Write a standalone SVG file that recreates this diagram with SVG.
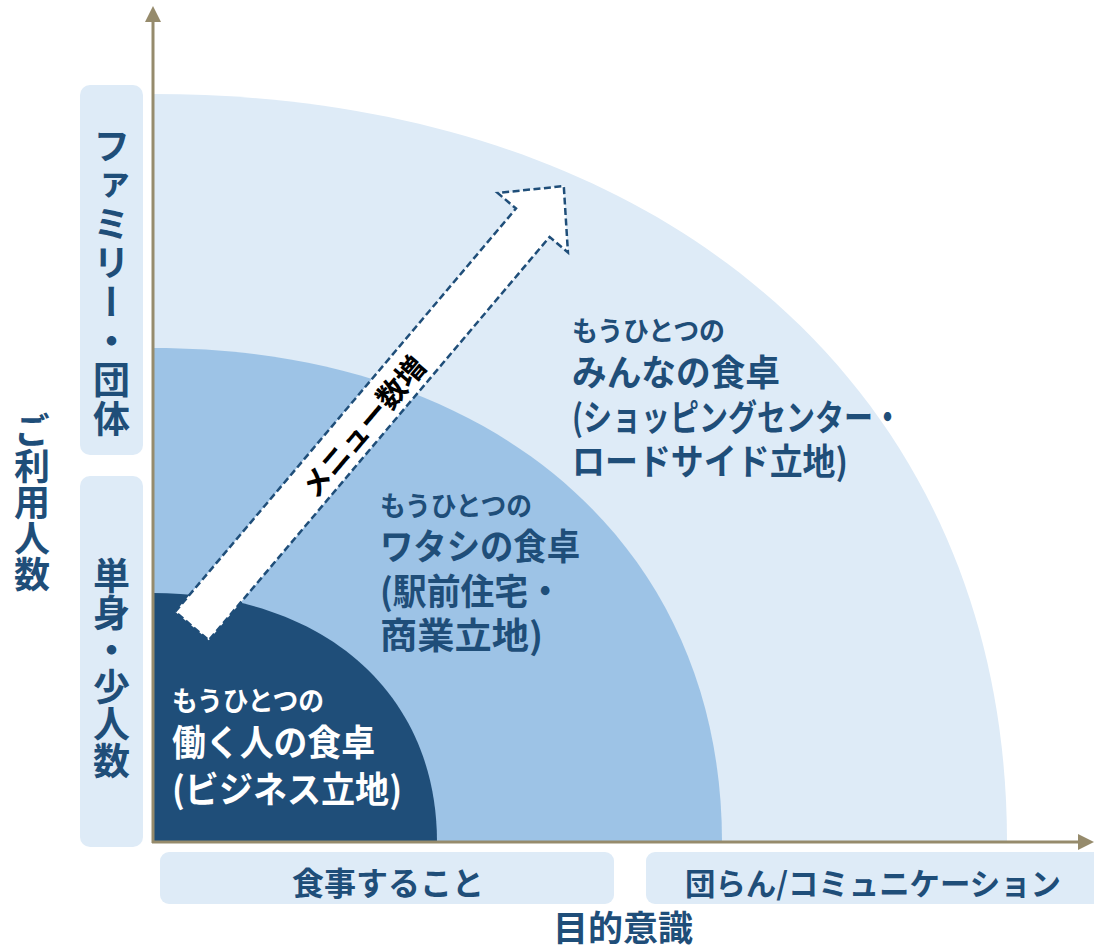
<svg xmlns="http://www.w3.org/2000/svg" width="1094" height="949" viewBox="0 0 1094 949">
<style>
text{font-family:"Noto Sans CJK JP","Noto Sans",sans-serif;font-weight:700}
.b{fill:#1f4e79}
.w{fill:#ffffff}
.k{fill:#000000}
.box{fill:#deebf7}
.v{writing-mode:vertical-rl;text-anchor:middle}
.c{text-anchor:middle}
.ax{stroke:#968b6c;stroke-width:3;fill:none}
.axh{fill:#968b6c}
.s{font-size:27px}
.l{font-size:36px}
</style>
<rect width="1094" height="949" fill="#ffffff"/>

<g id="region-everyone">
<path d="M153,842 V94 C665.4,94 1007,393.2 1007,842 Z" fill="#deebf7"/>
</g>
<g id="region-watashi">
<path d="M153,842 V348 C494.4,348 722,545.6 722,842 Z" fill="#9dc3e6"/>
</g>
<g id="region-worker">
<path d="M153,842 V593 C323.4,593 437,692.6 437,842 Z" fill="#1f4e79"/>
</g>

<g id="arrow-menu" transform="translate(192,626) rotate(-49.8)">
<polygon points="0,-22 528,-22 528,-46 576,0 528,46 528,22 0,22" fill="#ffffff" stroke="#1f4e79" stroke-width="2.5" stroke-dasharray="7 3.5" stroke-linejoin="miter"/>
<text class="k c" x="263" y="0" font-size="29" dominant-baseline="central">メニュー数増</text>
</g>

<g id="label-everyone">
<text class="b"><tspan class="s" x="572" y="341" textLength="153" lengthAdjust="spacingAndGlyphs">もうひとつの</tspan><tspan class="l" x="572" y="386" textLength="208" lengthAdjust="spacingAndGlyphs">みんなの食卓</tspan><tspan class="l" x="572" y="431" textLength="330" lengthAdjust="spacingAndGlyphs">(ショッピングセンター・</tspan><tspan class="l" x="572" y="475" textLength="276" lengthAdjust="spacingAndGlyphs">ロードサイド立地)</tspan></text>
</g>

<g id="label-watashi">
<text class="b"><tspan class="s" x="380" y="516" textLength="152" lengthAdjust="spacingAndGlyphs">もうひとつの</tspan><tspan class="l" x="380" y="560" textLength="200" lengthAdjust="spacingAndGlyphs">ワタシの食卓</tspan><tspan class="l" x="380" y="605" textLength="182" lengthAdjust="spacingAndGlyphs">(駅前住宅・</tspan><tspan class="l" x="380" y="649" textLength="163" lengthAdjust="spacingAndGlyphs">商業立地)</tspan></text>
</g>

<g id="label-worker">
<text class="w"><tspan class="s" x="172" y="711" textLength="152" lengthAdjust="spacingAndGlyphs">もうひとつの</tspan><tspan class="l" x="172" y="756" textLength="203" lengthAdjust="spacingAndGlyphs">働く人の食卓</tspan><tspan class="l" x="172" y="803" textLength="230" lengthAdjust="spacingAndGlyphs">(ビジネス立地)</tspan></text>
</g>

<g id="connectors">
<line class="ax" x1="153" y1="843" x2="153" y2="20"/>
<polygon class="axh" points="153,6 145,22 161,22"/>
<line class="ax" x1="152" y1="842" x2="1080" y2="842"/>
<polygon class="axh" points="1094,842 1078,834 1078,850"/>
</g>

<g id="ylabel-family">
<rect class="box" x="80" y="85" width="63" height="370" rx="10"/>
<text class="b v" x="111.5" y="283" font-size="37" letter-spacing="2">ファミリー・団体</text>
</g>
<g id="ylabel-single">
<rect class="box" x="80" y="476" width="63" height="371" rx="10"/>
<text class="b v" x="111.5" y="668" font-size="37">単身・少人数</text>
</g>
<g id="ylabel-axis">
<text class="b v" x="32" y="502" font-size="36">ご利用人数</text>
</g>

<g id="xlabel-eat">
<rect class="box" x="160" y="852" width="454" height="52" rx="9"/>
<text class="b c" x="388" y="895" font-size="32">食事すること</text>
</g>
<g id="xlabel-communication">
<rect class="box" x="646" y="852" width="470" height="52" rx="9"/>
<text class="b c" x="873" y="895" font-size="31" textLength="376" lengthAdjust="spacingAndGlyphs">団らん/コミュニケーション</text>
</g>
<g id="xlabel-axis">
<text class="b c" x="623" y="941" font-size="35">目的意識</text>
</g>
</svg>
